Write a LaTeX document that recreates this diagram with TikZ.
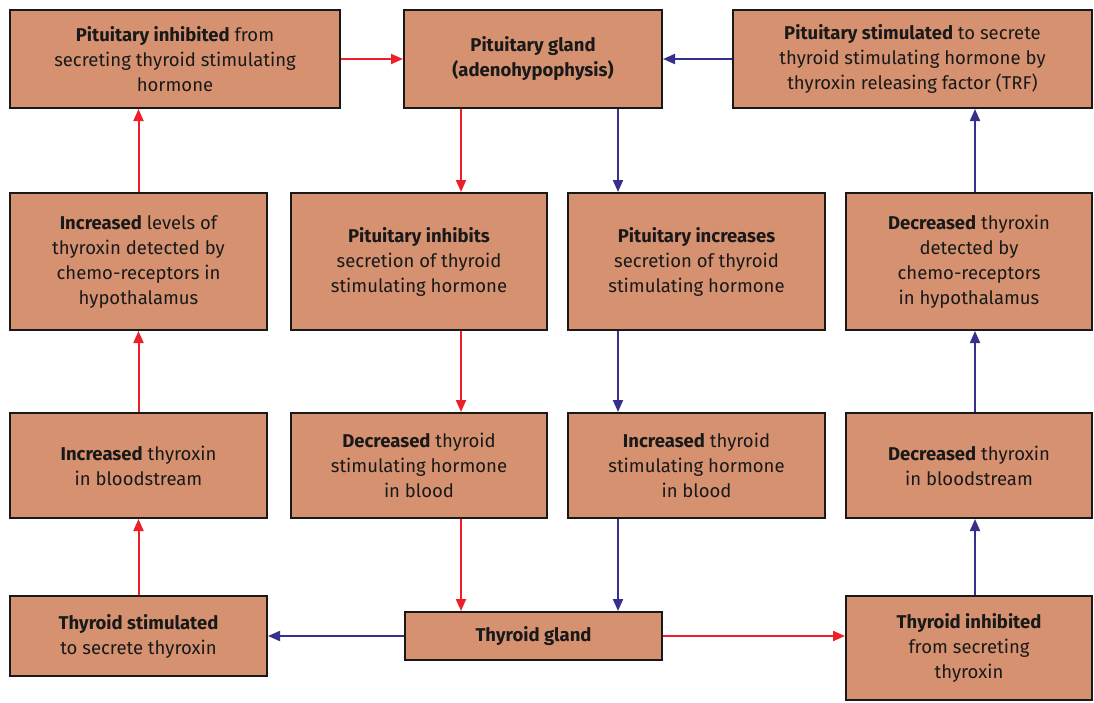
\documentclass[tikz,border=0pt]{standalone}
\usepackage{fontspec}
\setmainfont{Fira Sans}
\usetikzlibrary{arrows.meta,calc}
\definecolor{boxfill}{RGB}{214,146,112}
\definecolor{arrred}{RGB}{236,32,40}
\definecolor{arrblue}{RGB}{52,48,140}
\tikzset{
  box/.style={draw=black!90,line width=2pt,fill=boxfill,align=center,
    text=black!90,inner sep=2pt,font=\fontsize{18.5}{25}\selectfont},
  redarr/.style={draw=arrred,line width=2pt,-{Triangle[length=12pt,width=10pt]}},
  bluearr/.style={draw=arrblue,line width=2pt,-{Triangle[length=12pt,width=10pt]}}
}
\begin{document}
\begin{tikzpicture}[x=1pt,y=-1pt]
    % Page
    \useasboundingbox (0,0) rectangle (1094,702);

    % Top row
    \node[box,minimum width=330pt,minimum height=98pt] (inhib) at (175,59)
      {\textbf{Pituitary inhibited} from\\secreting thyroid stimulating\\hormone};
    \node[box,minimum width=258pt,minimum height=98pt] (gland) at (533,59)
      {\textbf{Pituitary gland}\\\textbf{(adenohypophysis)}};
    \node[box,minimum width=359pt,minimum height=98pt] (stim) at (912.5,59)
      {\textbf{Pituitary stimulated} to secrete\\thyroid stimulating hormone by\\thyroxin releasing factor (TRF)};

    % Second row
    \node[box,minimum width=257pt,minimum height=137pt] (inclev) at (138.5,261.5)
      {\textbf{Increased} levels of\\thyroxin detected by\\chemo-receptors in\\hypothalamus};
    \node[box,minimum width=256pt,minimum height=137pt] (pinhib) at (419,261.5)
      {\textbf{Pituitary inhibits}\\secretion of thyroid\\stimulating hormone};
    \node[box,minimum width=257pt,minimum height=137pt] (pinc) at (696.5,261.5)
      {\textbf{Pituitary increases}\\secretion of thyroid\\stimulating hormone};
    \node[box,minimum width=246pt,minimum height=137pt] (decdet) at (969,261.5)
      {\textbf{Decreased} thyroxin\\detected by\\chemo-receptors\\in hypothalamus};

    % Third row
    \node[box,minimum width=257pt,minimum height=105pt] (incblood) at (138.5,465.5)
      {\textbf{Increased} thyroxin\\in bloodstream};
    \node[box,minimum width=256pt,minimum height=105pt] (dectsh) at (419,465.5)
      {\textbf{Decreased} thyroid\\stimulating hormone\\in blood};
    \node[box,minimum width=257pt,minimum height=105pt] (inctsh) at (696.5,465.5)
      {\textbf{Increased} thyroid\\stimulating hormone\\in blood};
    \node[box,minimum width=246pt,minimum height=105pt] (decblood) at (969,465.5)
      {\textbf{Decreased} thyroxin\\in bloodstream};

    % Bottom row
    \node[box,minimum width=257pt,minimum height=80pt] (tstim) at (138.5,636)
      {\textbf{Thyroid stimulated}\\to secrete thyroxin};
    \node[box,minimum width=257pt,minimum height=48pt] (thyroid) at (533.5,636)
      {\textbf{Thyroid gland}};
    \node[box,minimum width=246pt,minimum height=104pt] (tinhib) at (969,648)
      {\textbf{Thyroid inhibited}\\from secreting\\thyroxin};

    % Columns of the arrows
    \coordinate (redx) at (461,0);
    \coordinate (bluex) at (618,0);
    \coordinate (rightx) at (975,0);

    % Red loop
    \draw[redarr] (inhib.east) -- (gland.west);
    \draw[redarr] (gland.south -| redx) -- (pinhib.north -| redx);
    \draw[redarr] (pinhib.south -| redx) -- (dectsh.north -| redx);
    \draw[redarr] (dectsh.south -| redx) -- (thyroid.north -| redx);
    \draw[redarr] (thyroid.east) -- (tinhib.west |- thyroid.east);

    % Blue loop
    \draw[bluearr] (stim.west |- gland.west) -- (gland.east);
    \draw[bluearr] (gland.south -| bluex) -- (pinc.north -| bluex);
    \draw[bluearr] (pinc.south -| bluex) -- (inctsh.north -| bluex);
    \draw[bluearr] (inctsh.south -| bluex) -- (thyroid.north -| bluex);
    \draw[bluearr] (thyroid.west) -- (tstim.east);

    % Left column, going up
    \draw[redarr] (tstim.north) -- (incblood.south);
    \draw[redarr] (incblood.north) -- (inclev.south);
    \draw[redarr] (inclev.north) -- (inhib.south -| inclev.north);

    % Right column, going up
    \draw[bluearr] (tinhib.north -| rightx) -- (decblood.south -| rightx);
    \draw[bluearr] (decblood.north -| rightx) -- (decdet.south -| rightx);
    \draw[bluearr] (decdet.north -| rightx) -- (stim.south -| rightx);
\end{tikzpicture}
\end{document}
